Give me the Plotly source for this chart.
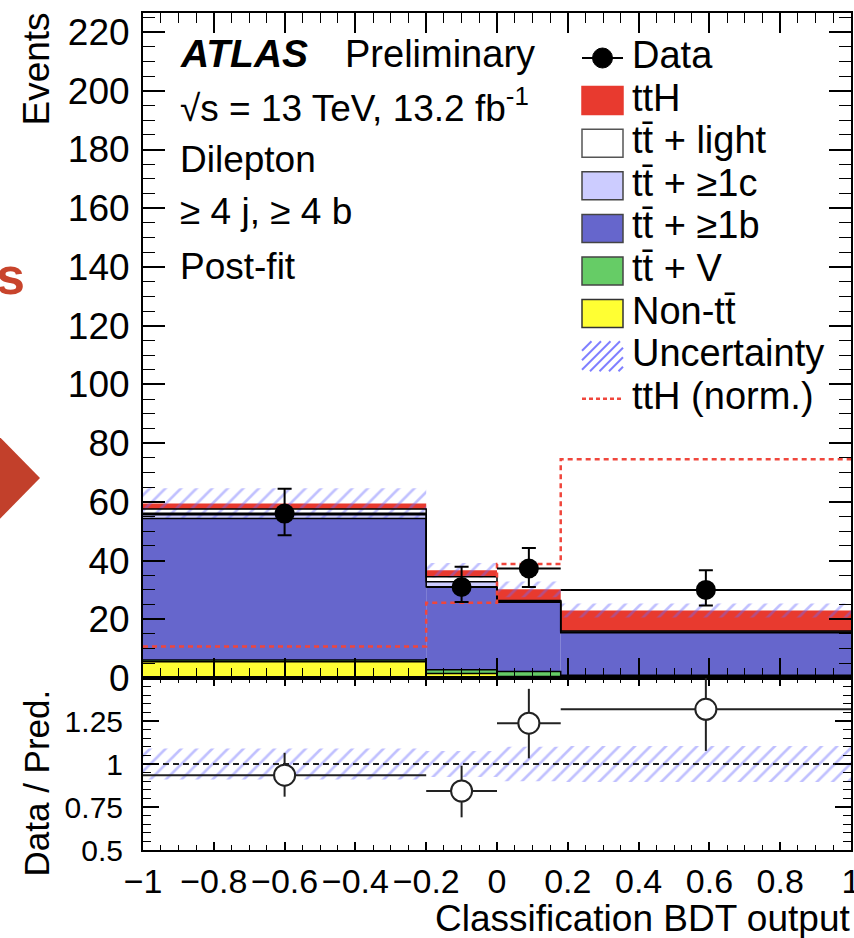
import numpy as np
import plotly.graph_objects as go

# ---------------- data ----------------
bin_edges = [-1.0, -0.2, 0.0, 0.18, 1.0]
non_tt   = [5.5, 1.5, 0.5, 0.3]
tt_V     = [0.6, 1.3, 1.7, 0.6]
tt_b     = [48.2, 28.3, 23.6, 14.5]
tt_c     = [1.3, 1.7, 0.3, 0.3]
tt_light = [2.0, 1.7, 0.3, 0.3]
tt_H     = [1.8, 2.2, 3.8, 7.0]
syst_unc = [5.2, 2.5, 2.7, 2.4]
tth_norm = [10.7, 25.6, 38.8, 74.5]

data_vals   = [56.0, 31.0, 37.3, 30.0]
data_err_up = [8.5, 6.9, 7.0, 6.7]
data_err_dn = [7.4, 5.1, 6.3, 5.3]

ratio_vals   = [0.935, 0.843, 1.237, 1.318]
ratio_err_up = [0.13, 0.147, 0.20, 0.25]
ratio_err_dn = [0.125, 0.153, 0.204, 0.242]
ratio_unc    = [0.09, 0.075, 0.10, 0.105]

x_ticks = [-1.0, -0.8, -0.6, -0.4, -0.2, 0.0, 0.2, 0.4, 0.6, 0.8, 1.0]
x_ticktext = ["−1", "−0.8", "−0.6", "−0.4", "−0.2", "0", "0.2", "0.4", "0.6", "0.8", "1"]
y_ticks_main  = [0, 20, 40, 60, 80, 100, 120, 140, 160, 180, 200, 220]
y_ticks_ratio = [0.5, 0.75, 1, 1.25]
y_ticktext_ratio = ["0.5", "0.75", "1", "1.25"]

# ---------------- geometry helpers (pixels -> paper) ----------------
W, H = 854, 938
X0, X1, YT, YB = 143, 851, 13, 850
def px(x): return (x - X0) / (X1 - X0)
def py(y): return (YB - y) / (YB - YT)
split = py(678)

FONT = "Liberation Sans, Arial, Helvetica, sans-serif"
HATCH_COL = "rgba(105,105,255,0.85)"

edges = np.array(bin_edges)
centers = (edges[:-1] + edges[1:]) / 2
widths = edges[1:] - edges[:-1]

layers = [
    ("Non-tt̄", non_tt, "#ffff33"),
    ("tt̄ + V", tt_V, "#66cc66"),
    ("tt̄ + ≥1b", tt_b, "#6666cc"),
    ("tt̄ + ≥1c", tt_c, "#ccccff"),
    ("tt̄ + light", tt_light, "#ffffff"),
    ("ttH", tt_H, "#e83a2f"),
]

fig = go.Figure()
base = np.zeros(len(centers))
tops = []
for name, vals, col in layers:
    v = np.array(vals)
    fig.add_trace(go.Bar(x=centers, y=v, base=base.copy(), width=widths,
                         marker=dict(color=col, line=dict(width=0)), opacity=1,
                         xaxis="x", yaxis="y", showlegend=False, name=name))
    base = base + v
    tops.append((name, base.copy()))
total = base.copy()

# uncertainty hatch (main)
unc = np.array(syst_unc)
hatch = dict(shape="/", fgcolor=HATCH_COL, bgcolor="rgba(0,0,0,0)",
             size=11, solidity=0.24)
fig.add_trace(go.Bar(x=centers, y=2 * unc, base=total - unc, width=widths,
                     marker=dict(color="rgba(0,0,0,0)", line=dict(width=0), pattern=hatch),
                     xaxis="x", yaxis="y", showlegend=False))
# uncertainty hatch (ratio)
runc = np.array(ratio_unc)
fig.add_trace(go.Bar(x=centers, y=2 * runc, base=1 - runc, width=widths,
                     marker=dict(color="rgba(0,0,0,0)", line=dict(width=0), pattern=hatch),
                     xaxis="x2", yaxis="y2", showlegend=False))

# step outlines
for name, t in tops:
    if name == "ttH":
        continue
    fig.add_trace(go.Scatter(x=edges, y=np.append(t, t[-1]), mode="lines",
                             line=dict(color="black", width=1.5, shape="hv"),
                             xaxis="x", yaxis="y", showlegend=False, hoverinfo="skip"))

# ttH normalised
tn = np.array(tth_norm)
fig.add_trace(go.Scatter(x=edges, y=np.append(tn, tn[-1]), mode="lines",
                         line=dict(color="#f0463c", width=2.5, shape="hv", dash="5px,4px"),
                         xaxis="x", yaxis="y", showlegend=False))

# data
fig.add_trace(go.Scatter(x=centers, y=data_vals, mode="markers",
                         marker=dict(color="black", size=20),
                         error_y=dict(type="data", symmetric=False, array=data_err_up,
                                      arrayminus=data_err_dn, color="black", thickness=2, width=7),
                         error_x=dict(type="data", array=widths / 2, color="black", thickness=2, width=0),
                         xaxis="x", yaxis="y", showlegend=False))

# ratio reference line
fig.add_trace(go.Scatter(x=[bin_edges[0], bin_edges[-1]], y=[1, 1], mode="lines",
                         line=dict(color="#222222", width=2, dash="6px,4px"),
                         xaxis="x2", yaxis="y2", showlegend=False))
# ratio points
fig.add_trace(go.Scatter(x=centers, y=ratio_vals, mode="markers",
                         marker=dict(color="white", size=21, line=dict(color="#222222", width=2)),
                         error_y=dict(type="data", symmetric=False, array=ratio_err_up,
                                      arrayminus=ratio_err_dn, color="#222222", thickness=2, width=0),
                         error_x=dict(type="data", array=widths / 2, color="#222222", thickness=2, width=0),
                         xaxis="x2", yaxis="y2", showlegend=False))

axis_common = dict(showline=True, linecolor="black", linewidth=2, mirror="allticks",
                   ticks="inside", tickcolor="black", showgrid=False, zeroline=False,
                   layer="above traces", automargin=False)

fig.update_layout(
    width=W, height=H,
    margin=dict(l=X0, r=W - X1, t=YT, b=H - YB, autoexpand=False),
    paper_bgcolor="white", plot_bgcolor="white",
    barmode="overlay", showlegend=False,
    font=dict(family=FONT, color="black"),
    xaxis=dict(domain=[0, 1], range=[-1, 1], anchor="y", showticklabels=False,
               tickvals=x_ticks, ticklen=20, tickwidth=1.5,
               minor=dict(ticks="inside", dtick=0.05, tick0=-1, ticklen=10, tickcolor="black", tickwidth=1.2),
               **axis_common),
    yaxis=dict(domain=[split, 1], range=[0, 226.5], anchor="x",
               tickvals=y_ticks_main, ticklen=22, tickwidth=1.5,
               tickfont=dict(size=37, family=FONT), ticklabelstandoff=4,
               minor=dict(ticks="inside", dtick=5, tick0=0, ticklen=12, tickcolor="black", tickwidth=1.2),
               **axis_common),
    xaxis2=dict(domain=[0, 1], range=[-1, 1], anchor="y2", matches="x",
                tickvals=x_ticks, ticktext=x_ticktext, ticklen=8, tickwidth=1.5, tickangle=0,
                tickfont=dict(size=34, family=FONT), ticklabelstandoff=0,
                ticklabeloverflow="allow",
                minor=dict(ticks="inside", dtick=0.05, tick0=-1, ticklen=5, tickcolor="black", tickwidth=1.2),
                **axis_common),
    yaxis2=dict(domain=[0, split], range=[0.5, 1.5], anchor="x2",
                tickvals=y_ticks_ratio, ticktext=y_ticktext_ratio, ticklen=16, tickwidth=1.5,
                tickfont=dict(size=30, family=FONT), ticklabelstandoff=12,
                minor=dict(ticks="inside", dtick=0.05, tick0=0.5, ticklen=8, tickcolor="black", tickwidth=1.2),
                **axis_common),
)

ann = []
shapes = []
def text(x, y, s, size=36, xanchor="left", yanchor="middle", angle=0, color="black"):
    ann.append(dict(x=px(x), y=py(y), xref="paper", yref="paper", text=s, showarrow=False,
                    xanchor=xanchor, yanchor=yanchor, textangle=angle,
                    font=dict(size=size, family=FONT, color=color)))

# labels
text(36, 11, "Events", size=37, xanchor="center", yanchor="top", angle=-90)
text(36, 688, "Data / Pred.", size=35, xanchor="center", yanchor="top", angle=-90)
text(852, 941, "Classification BDT output", size=37, xanchor="right", yanchor="bottom")

# ATLAS block
text(178, 54, "<b><i>ATLAS</i></b>", size=39)
text(343, 54, "Preliminary", size=38)
text(178, 105, "√s = 13 TeV, 13.2 fb<sup>-1</sup>", size=37)
text(178, 159, "Dilepton", size=37)
text(178, 212, "≥ 4 j, ≥ 4 b", size=37)
text(178, 266, "Post-fit", size=37)

# legend
leg = [
    ("Data", "data", None, None),
    ("ttH", "box", "#e83a2f", "#e83a2f"),
    ("tt̄ + light", "box", "#ffffff", "#555555"),
    ("tt̄ + ≥1c", "box", "#ccccff", "#444444"),
    ("tt̄ + ≥1b", "box", "#6666cc", "#444444"),
    ("tt̄ + V", "box", "#66cc66", "#444444"),
    ("Non-tt̄", "box", "#ffff33", "#333333"),
    ("Uncertainty", "hatch", None, None),
    ("ttH (norm.)", "dash", None, None),
]
bx0, bx1 = 582, 623
for i, (lab, kind, fill, border) in enumerate(leg):
    yc = 55 + 42.6 * i
    text(630, yc, lab, size=38)
    yb = yc + 3
    if kind == "box":
        shapes.append(dict(type="rect", xref="paper", yref="paper",
                           x0=px(bx0), x1=px(bx1), y0=py(yb + 14), y1=py(yb - 14),
                           fillcolor=fill, line=dict(color=border, width=1.5), layer="above"))
    elif kind == "data":
        shapes.append(dict(type="line", xref="paper", yref="paper",
                           x0=px(bx0), x1=px(bx1), y0=py(yb), y1=py(yb),
                           line=dict(color="black", width=2), layer="above"))
        shapes.append(dict(type="circle", xref="paper", yref="paper",
                           x0=px(602.5 - 10), x1=px(602.5 + 10), y0=py(yb + 10), y1=py(yb - 10),
                           fillcolor="black", line=dict(color="black", width=1), layer="above"))
    elif kind == "dash":
        shapes.append(dict(type="line", xref="paper", yref="paper",
                           x0=px(bx0), x1=px(bx1), y0=py(yb), y1=py(yb),
                           line=dict(color="#f0463c", width=2.5, dash="4px,3px"), layer="above"))
    elif kind == "hatch":
        top, bot = yb - 15, yb + 15
        hh = bot - top
        for k in np.arange(bx0 - hh, bx1, 9.5):
            t0 = max(0, bx0 - k)
            t1 = min(hh, bx1 - k)
            if t1 - t0 > 1:
                shapes.append(dict(type="line", xref="paper", yref="paper",
                                   x0=px(k + t0), y0=py(bot - t0), x1=px(k + t1), y1=py(bot - t1),
                                   line=dict(color=HATCH_COL, width=2), layer="above"))

# slide artefacts at the left edge
shapes.append(dict(type="path", xref="paper", yref="paper",
                   path=f"M {px(-12)},{py(425)} L {px(40)},{py(478)} L {px(-12)},{py(531)} Z",
                   fillcolor="#c2402b", line=dict(width=0), layer="above"))
ann.append(dict(x=px(27), y=py(276), xref="paper", yref="paper", text="<b>s</b>", showarrow=False,
                xanchor="right", yanchor="middle", font=dict(size=52, family=FONT, color="#c8442c")))

fig.update_layout(annotations=ann, shapes=shapes)
fig.write_html("out.html", config={"displayModeBar": False},
               post_script="document.body.style.margin='0px';document.body.style.padding='0px';")
